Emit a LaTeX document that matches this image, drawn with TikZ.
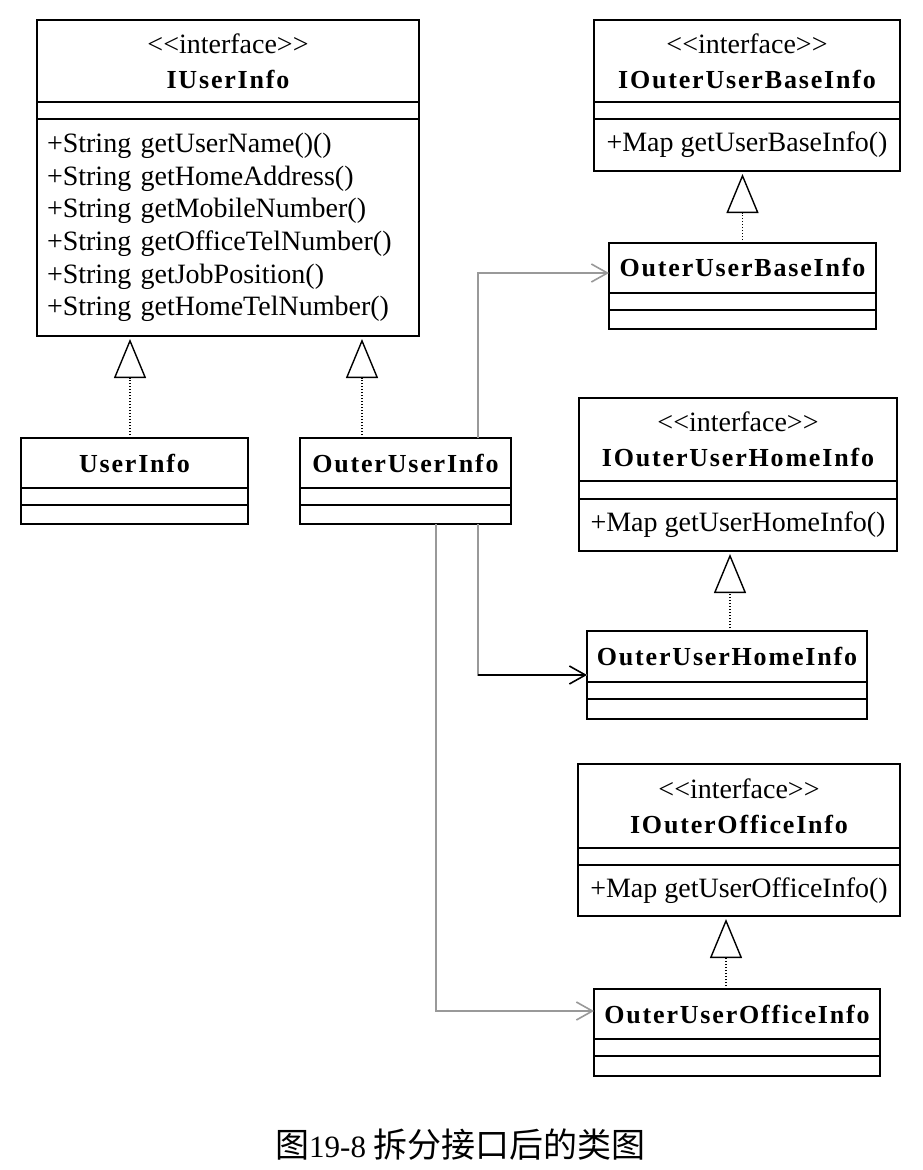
\documentclass[tikz,border=0pt]{standalone}
\usepackage{fontspec}
\setmainfont{Liberation Serif}[Ligatures=TeXOff]
\newfontfamily\namefont{Liberation Serif}[LetterSpace=7]
\newfontfamily\cjk{Noto Sans CJK SC}
\usetikzlibrary{arrows.meta, positioning}

\newcommand{\clsname}{\namefont\bfseries\fontsize{26}{35}\selectfont}

\begin{document}
\begin{tikzpicture}[x=1pt, y=-1pt, line width=1.4pt,
  cls/.style={draw, rectangle, inner sep=0pt, outer sep=0pt, minimum width=#1,
    font=\fontsize{28}{35}\selectfont, align=center},
  impl/.style={dash pattern=on 1pt off 2pt, shorten >=3pt,
    -{Triangle[open, length=39pt, width=32pt]}},
  dep/.style={gray!80, line width=1.6pt, -{Straight Barb[length=16pt, width=18pt]}}]
\useasboundingbox (0,0) rectangle (922,1170);

% IUserInfo
\node[cls=382pt, minimum height=82pt] (iu) at (228,61) {<<interface>>\\{\clsname IUserInfo}};
\node[cls=382pt, minimum height=17pt, below=0pt of iu] (iua) {};
\node[cls=382pt, minimum height=217pt, below=0pt of iua, align=left, text width=362pt,
  inner xsep=10pt, font=\fontsize{28}{32.6}\selectfont] (ium) {+String getUserName()()\\
  +String getHomeAddress()\\+String getMobileNumber()\\+String getOfficeTelNumber()\\
  +String getJobPosition()\\+String getHomeTelNumber()};

% implementations of IUserInfo
\node[cls=227pt, minimum height=50pt] (ui) at (134.5,463) {\clsname UserInfo};
\node[cls=227pt, minimum height=17pt, below=0pt of ui] (uia) {};
\node[cls=227pt, minimum height=19pt, below=0pt of uia] (uim) {};

\node[cls=211pt, minimum height=50pt] (ou) at (405.5,463) {\clsname OuterUserInfo};
\node[cls=211pt, minimum height=17pt, below=0pt of ou] (oua) {};
\node[cls=211pt, minimum height=19pt, below=0pt of oua] (oum) {};

% IOuterUserBaseInfo
\node[cls=306pt, minimum height=82pt] (ibi) at (747,61) {<<interface>>\\{\clsname IOuterUserBaseInfo}};
\node[cls=306pt, minimum height=17pt, below=0pt of ibi] (ibia) {};
\node[cls=306pt, minimum height=52pt, below=0pt of ibia] (ibim) {+Map getUserBaseInfo()};

\node[cls=267pt, minimum height=50pt] (obi) at (742.5,268) {\clsname OuterUserBaseInfo};
\node[cls=267pt, minimum height=17pt, below=0pt of obi] (obia) {};
\node[cls=267pt, minimum height=19pt, below=0pt of obia] (obim) {};

% IOuterUserHomeInfo
\node[cls=318pt, minimum height=83pt] (ihi) at (738,439.5) {<<interface>>\\{\clsname IOuterUserHomeInfo}};
\node[cls=318pt, minimum height=18pt, below=0pt of ihi] (ihia) {};
\node[cls=318pt, minimum height=52pt, below=0pt of ihia] (ihim) {+Map getUserHomeInfo()};

\node[cls=280pt, minimum height=51pt] (ohi) at (727,656.5) {\clsname OuterUserHomeInfo};
\node[cls=280pt, minimum height=17pt, below=0pt of ohi] (ohia) {};
\node[cls=280pt, minimum height=20pt, below=0pt of ohia] (ohim) {};

% IOuterOfficeInfo
\node[cls=322pt, minimum height=84pt] (ioi) at (739,806) {<<interface>>\\{\clsname IOuterOfficeInfo}};
\node[cls=322pt, minimum height=17pt, below=0pt of ioi] (ioia) {};
\node[cls=322pt, minimum height=51pt, below=0pt of ioia] (ioim) {+Map getUserOfficeInfo()};

\node[cls=286pt, minimum height=50pt] (ooi) at (737,1014) {\clsname OuterUserOfficeInfo};
\node[cls=286pt, minimum height=17pt, below=0pt of ooi] (ooia) {};
\node[cls=286pt, minimum height=20pt, below=0pt of ooia] (ooim) {};

% realizations
\draw[impl] ([xshift=-4.5pt]ui.north) -- ([xshift=-4.5pt]ui.north |- ium.south);
\draw[impl] ([xshift=-43.5pt]ou.north) -- ([xshift=-43.5pt]ou.north |- ium.south);
\draw[impl] (obi.north) -- (obi.north |- ibim.south);
\draw[impl] ([xshift=3pt]ohi.north) -- ([xshift=3pt]ohi.north |- ihim.south);
\draw[impl] ([xshift=-11pt]ooi.north) -- ([xshift=-11pt]ooi.north |- ioim.south);

% dependencies
\draw[dep] ([xshift=72.5pt]ou.north) |- ([yshift=-5pt]obi.west);
\draw[dep, -] ([xshift=72.5pt]oum.south) |- coordinate (hc) ([yshift=-18.5pt]ohi.west);
\draw[dep, black] (hc) -- ([yshift=-18.5pt]ohi.west);
\draw[dep] ([xshift=30.5pt]oum.south) |- ([yshift=3pt]ooi.west);

\node[font=\fontsize{34}{40}\selectfont] (cap) at (460.5,1145)
  {{\cjk 图}\fontsize{31}{40}\selectfont 19-8 {\cjk\fontsize{34}{40}\selectfont 拆分接口后的类图}};
\end{tikzpicture}
\end{document}
